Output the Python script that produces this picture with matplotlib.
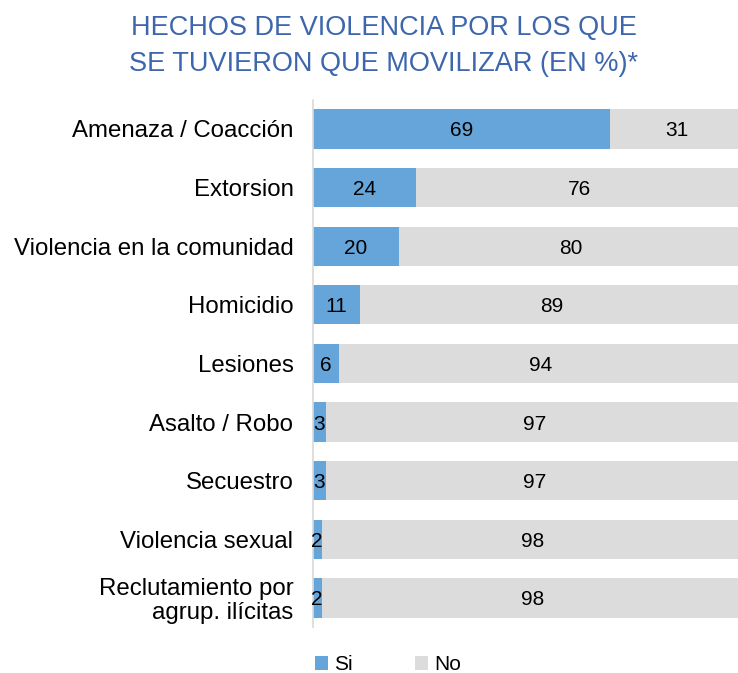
import numpy as np
import matplotlib.pyplot as plt

# data
categories = ["Amenaza / Coacción", "Extorsion", "Violencia en la comunidad",
              "Homicidio", "Lesiones", "Asalto / Robo", "Secuestro",
              "Violencia sexual", "Reclutamiento por\nagrup. ilícitas"]
si_values = [69, 24, 20, 11, 6, 3, 3, 2, 2]
no_values = [31, 76, 80, 89, 94, 97, 97, 98, 98]

blue = "#66a5da"
grey = "#dcdcdc"
plt.rcParams['font.family'] = ['Liberation Sans', 'DejaVu Sans']

fig = plt.figure(figsize=(7.38, 6.73), dpi=100)
ax = fig.add_axes([0.424, 0.068, 0.583, 0.784])

y = np.arange(len(categories))
si = np.array(si_values)
no = np.array(no_values)
ax.barh(y, si, height=0.67, color=blue, label="Si")
ax.barh(y, no, left=si, height=0.67, color=grey, label="No")

# value labels centred in each segment
for yi, s, n in zip(y, si, no):
    ax.text(s / 2, yi, str(s), ha="center", va="center_baseline", fontsize=15, color="black")
    ax.text(s + n / 2, yi, str(n), ha="center", va="center_baseline", fontsize=15, color="black")

ax.set_ylim(len(categories) - 0.5, -0.5)
ax.set_xlim(0, 100)
ax.set_yticks(y)
ax.set_yticklabels(categories, fontsize=17.3, linespacing=1.1)
ax.tick_params(axis="y", length=0, pad=14)
ax.set_xticks([])
for sp in ["top", "right", "bottom"]:
    ax.spines[sp].set_visible(False)
ax.spines["left"].set_color("#d9d9d9")
ax.spines["left"].set_linewidth(1.2)

fig.text(0.52, 0.978, "HECHOS DE VIOLENCIA POR LOS QUE\nSE TUVIERON QUE MOVILIZAR (EN %)*",
         ha="center", va="top", fontsize=19.5, color="#3d66ad", linespacing=1.5)

leg = fig.legend(loc="lower left", bbox_to_anchor=(0.402, -0.03), ncol=2, frameon=False,
                 fontsize=15, handlelength=0.6, handleheight=0.6, handletextpad=0.3,
                 columnspacing=3.0)

fig.savefig("out.png", dpi=100)
